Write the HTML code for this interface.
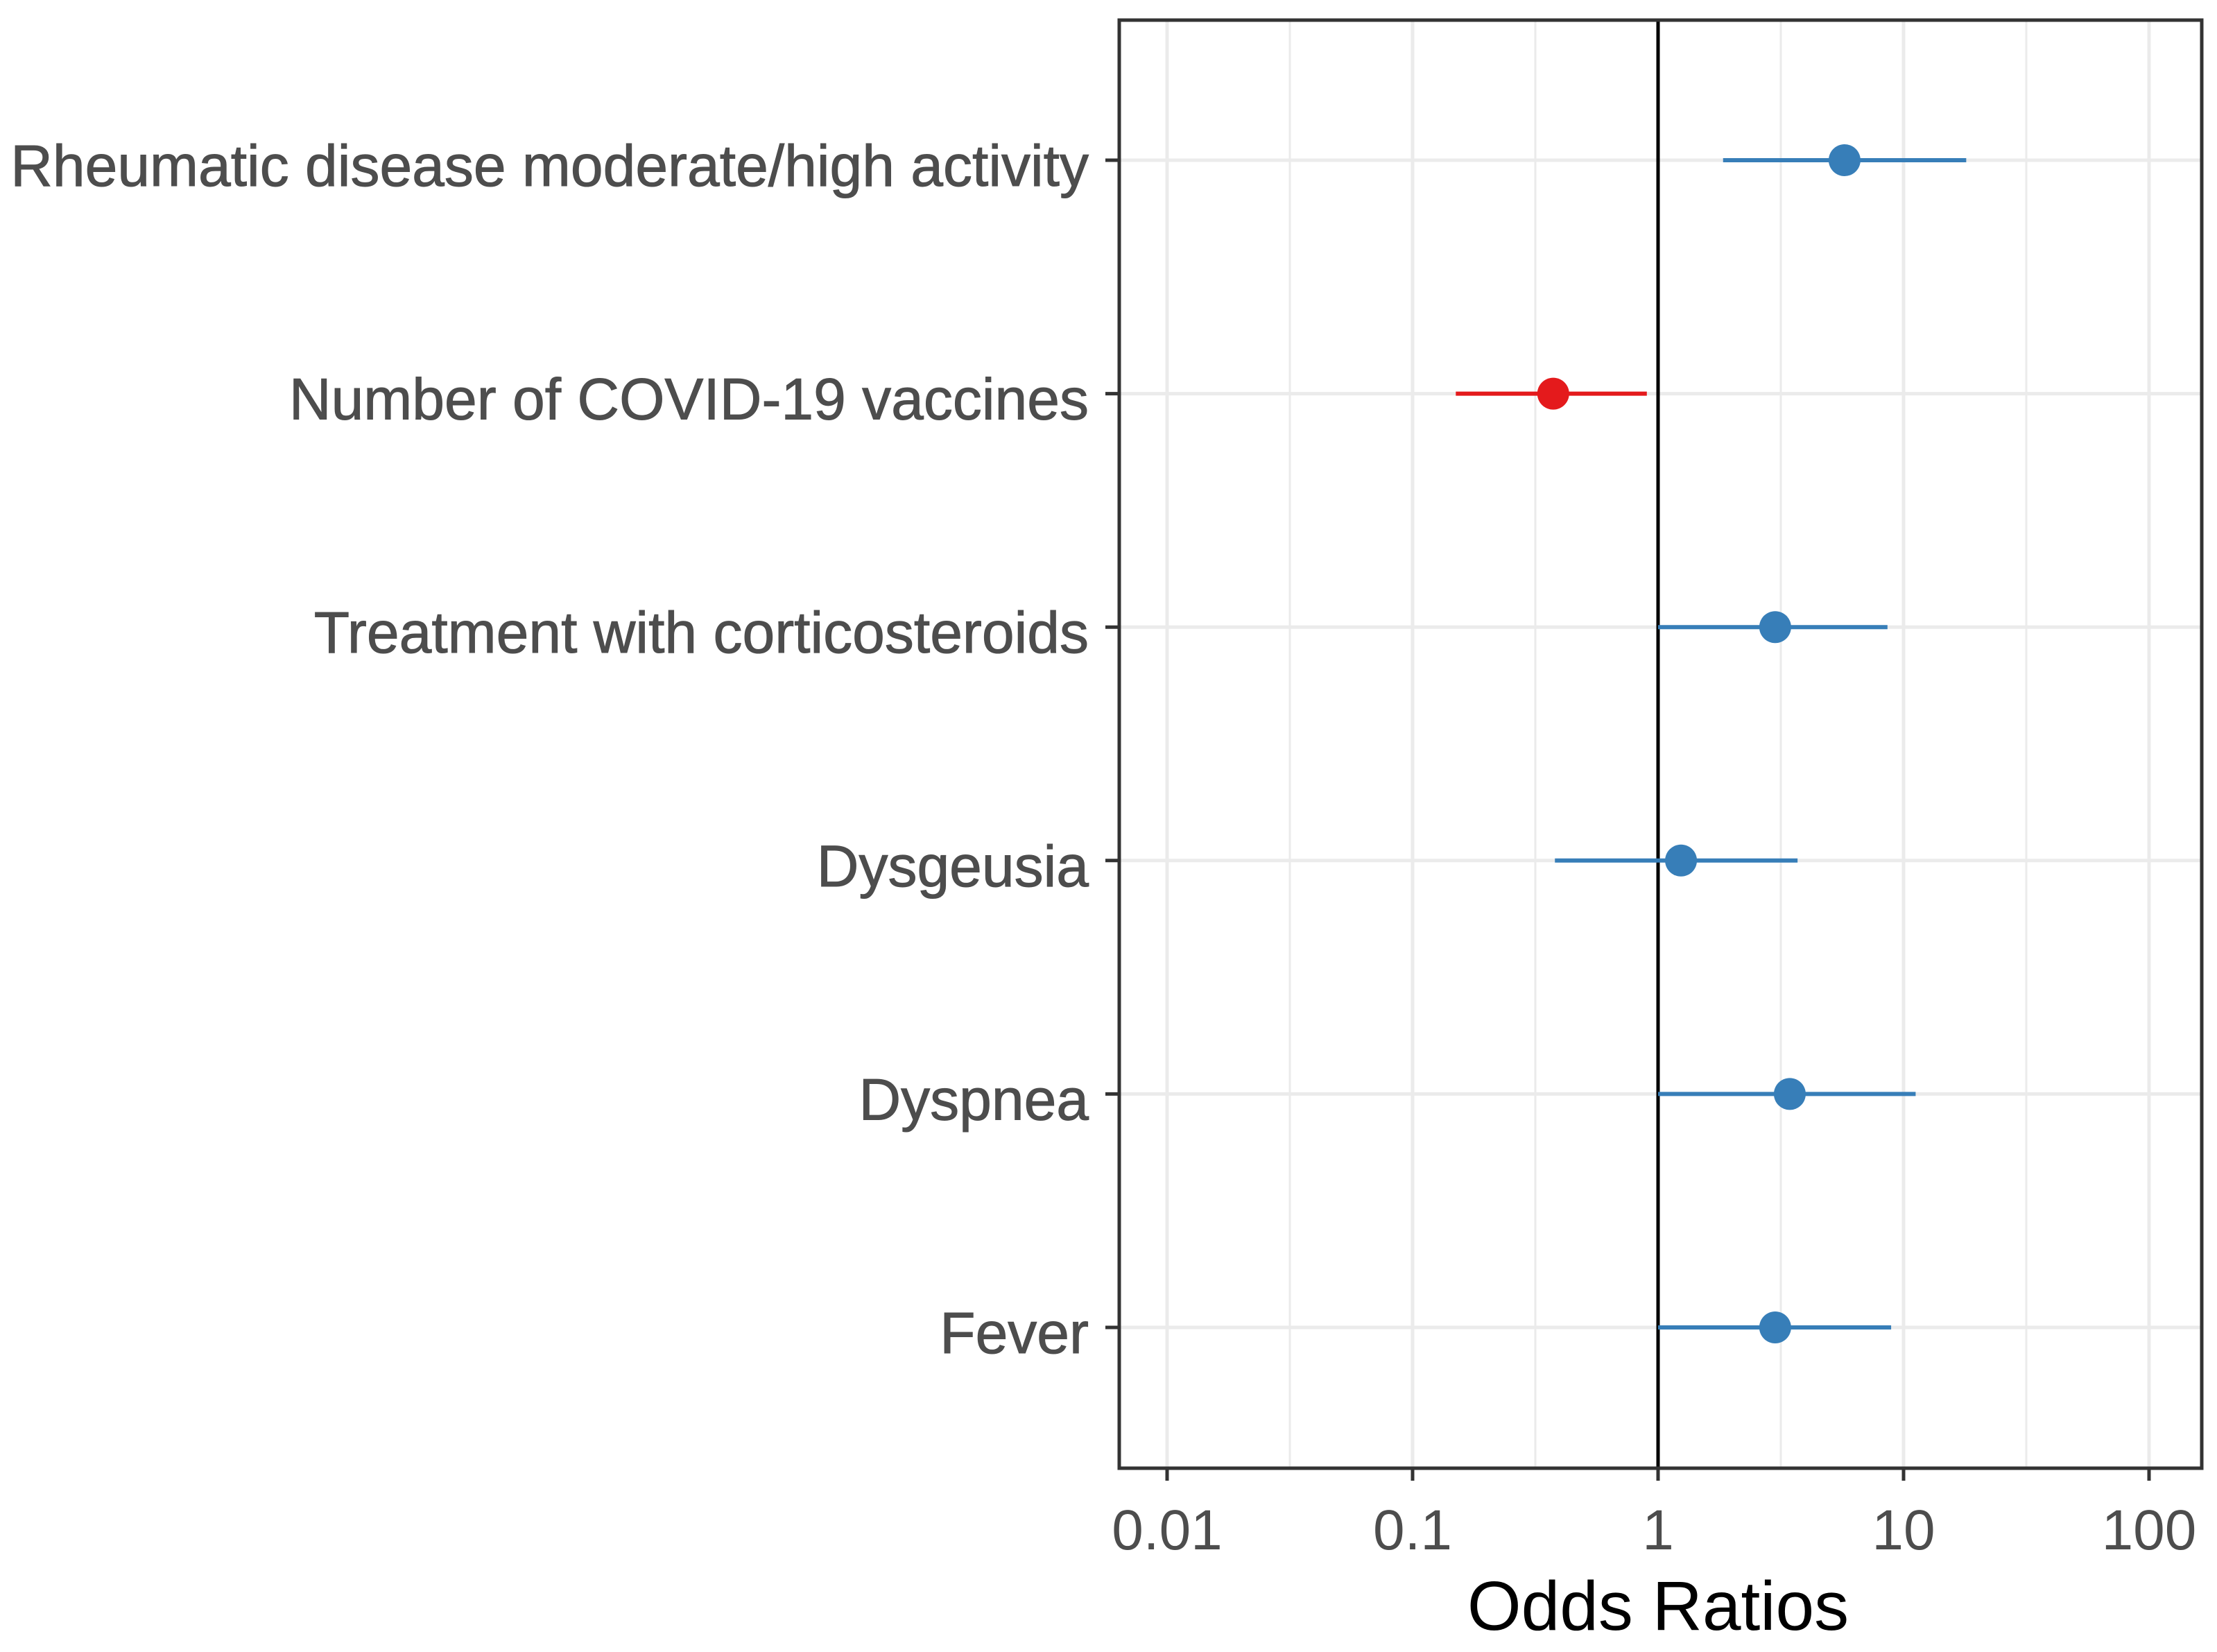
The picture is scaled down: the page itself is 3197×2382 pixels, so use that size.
<!DOCTYPE html>
<html><head><meta charset="utf-8"><style>
html,body{margin:0;padding:0;background:#fff;}
svg{display:block;font-family:"Liberation Sans",sans-serif;}
</style></head><body>
<svg id="chart" width="3197" height="2382" viewBox="0 0 3197 2382" xmlns="http://www.w3.org/2000/svg">
<rect width="3197" height="2382" fill="#fff"/>
<g id="grid"></g><g id="marks"></g><g id="axes"></g>
</svg>
<script>
const categories = ["Rheumatic disease moderate/high activity","Number of COVID-19 vaccines","Treatment with corticosteroids","Dysgeusia","Dyspnea","Fever"];
const estimates = [5.75, 0.374, 3.0, 1.24, 3.44, 3.0];
const lowerCI = [1.84, 0.15, 1.0, 0.38, 1.0, 1.0];
const upperCI = [18, 0.90, 8.6, 3.7, 11.2, 8.9];
const significantNegative = [false, true, false, false, false, false];
const xTicks = [0.01, 0.1, 1, 10, 100];
const xTickLabels = ["0.01","0.1","1","10","100"];

const NS="http://www.w3.org/2000/svg";
const L=1614,R=3175,T=29,B=2117;
const x0=1683, dec=354;
function xs(v){return x0+(Math.log10(v)+2)*dec;}
const rowY=[231,566,905,1240,1577,1914];
function ys(i){return rowY[0]+i*(rowY[5]-rowY[0])/(categories.length-1);}
function mk(tag,attrs,parent){const e=document.createElementNS(NS,tag);for(const k in attrs)e.setAttribute(k,attrs[k]);parent.appendChild(e);return e;}
const grid=document.getElementById('grid'),marks=document.getElementById('marks'),axes=document.getElementById('axes');

for(let i=0;i<xTicks.length-1;i++){
  const mid=Math.sqrt(xTicks[i]*xTicks[i+1]);
  const g=mk('line',{x1:xs(mid),x2:xs(mid),y1:T,y2:B,stroke:'#ebebeb','stroke-width':3},grid);
  
  
}
xTicks.forEach((t,i)=>{
  const g=mk('line',{x1:xs(t),x2:xs(t),y1:T,y2:B,stroke:'#ebebeb','stroke-width':5},grid);
  
  
  const tk=mk('line',{x1:xs(t),x2:xs(t),y1:B,y2:B+18,stroke:'#333','stroke-width':5},axes);
  
  
  const tl=mk('text',{x:xs(t),y:2234,'text-anchor':'middle','font-size':82,fill:'#4d4d4d'},axes);
  tl.textContent=xTickLabels[i];
  
  
});
categories.forEach((c,i)=>{
  const y=ys(i);
  const g=mk('line',{x1:L,x2:R,y1:y,y2:y,stroke:'#ebebeb','stroke-width':5},grid);
  
  
  const tk=mk('line',{x1:L-20,x2:L,y1:y,y2:y,stroke:'#333','stroke-width':5},axes);
  
  
  const tl=mk('text',{x:L-44,y:y+37,'text-anchor':'end','font-size':84,fill:'#4d4d4d',stroke:'#4d4d4d','stroke-width':1},axes);
  tl.textContent=c;
  
  
});
const ref=mk('line',{x1:xs(1),x2:xs(1),y1:T,y2:B,stroke:'#000','stroke-width':5},marks);


categories.forEach((c,i)=>{
  const y=ys(i),col=significantNegative[i]?'#e41a1c':'#377eb8';
  const ci=mk('line',{x1:xs(lowerCI[i]),x2:xs(upperCI[i]),y1:y,y2:y,stroke:col,'stroke-width':6},marks);
  
  
  const p=mk('circle',{cx:xs(estimates[i]),cy:y,r:23,fill:col},marks);
  
  
});
const frame=mk('rect',{x:L,y:T,width:R-L,height:B-T,fill:'none',stroke:'#333','stroke-width':5},axes);


const title=mk('text',{x:xs(1),y:2350,'text-anchor':'middle','font-size':100,fill:'#000'},axes);
title.textContent='Odds Ratios';


</script>
</body></html>
